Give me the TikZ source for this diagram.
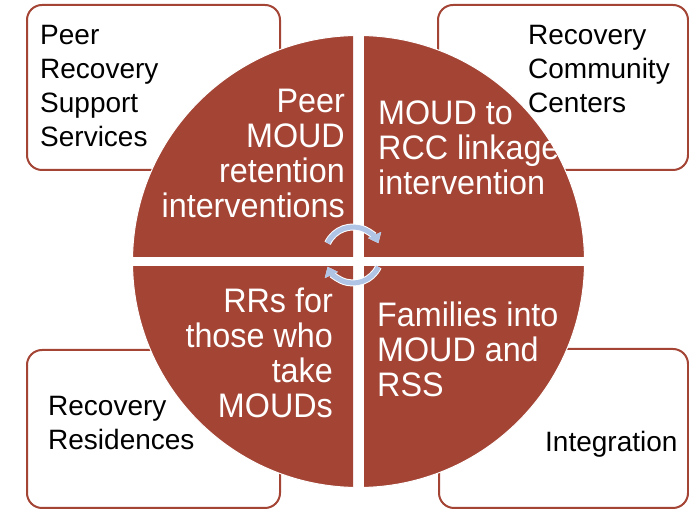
\documentclass[tikz,border=0pt]{standalone}
\usepackage{fontspec}
\setmainfont{Liberation Sans}
\newfontfamily\narrowfont[FakeStretch=0.95]{Liberation Sans}
\usetikzlibrary{arrows.meta}
\definecolor{brick}{HTML}{A34435}
\definecolor{spinblue}{HTML}{B0C4E6}

\begin{document}
\begin{tikzpicture}[x=1pt, y=1pt,
  box/.style={draw=brick, line width=2pt, rounded corners=15pt, fill=white, inner sep=0pt},
  outer/.style={font=\fontsize{28}{34}\selectfont, inner sep=0pt, text=black},
  inner/.style={font=\narrowfont\fontsize{34}{35}\selectfont, inner sep=0pt, text=white},
  roundarrow/.style={line width=5pt, draw=spinblue, -{Triangle[length=9pt,width=14pt]}, preaction={draw=white, line width=7pt}}]

\useasboundingbox (0,0) rectangle (689,511);

% The four outer boxes
\node[box, minimum width=253pt, minimum height=165pt] (prss) at (153.5,423.5) {};
\node[box, minimum width=250pt, minimum height=165pt] (rcc) at (563,423.5) {};
\node[box, minimum width=253pt, minimum height=158pt] (rr) at (153.5,82) {};
\node[box, minimum width=249pt, minimum height=159pt] (integ) at (563.5,82.5) {};

% The pie, cut into quarters
\coordinate (hub) at (358.5,249.5);
\foreach \sx/\sy in {-1/1, 1/1, -1/-1, 1/-1} {
  \begin{scope}
    \clip ([shift={(\sx*5.5,\sy*5)}]hub) rectangle ([shift={(\sx*240,\sy*240)}]hub);
    \fill[brick, draw=white, line width=1pt] (hub) circle (226);
  \end{scope}
}

% Texts of the boxes
\node[outer, align=left, anchor=base west] (prsstext) at (40,364) {Peer\\Recovery\\Support\\Services};
\node[outer, align=left, anchor=base west] (rcctext) at (528,398) {Recovery\\Community\\Centers};
\node[outer, align=left, anchor=base west] (rrtext) at (48,61) {Recovery\\Residences};
\node[outer, anchor=base west] (integtext) at (545,59) {Integration};

% Texts of the quarters
\node[inner, align=right, anchor=base east] (retention) at (345,293) {Peer\\MOUD\\retention\\interventions};
\node[inner, align=left, anchor=base west] (linkage) at (378,316) {MOUD to\\RCC linkage\\intervention};
\node[inner, align=right, anchor=base east] (takers) at (333,93) {RRs for\\those who\\take\\MOUDs};
\node[inner, align=left, anchor=base west] (families) at (377,114) {Families into\\MOUD and\\RSS};

% The turning arrows in the middle
\coordinate (spin) at (353,256);
\draw[roundarrow] ([shift={(155:28)}]spin) arc (155:25:28);
\draw[roundarrow] ([shift={(-25:28)}]spin) arc (-25:-155:28);

\end{tikzpicture}
\end{document}
